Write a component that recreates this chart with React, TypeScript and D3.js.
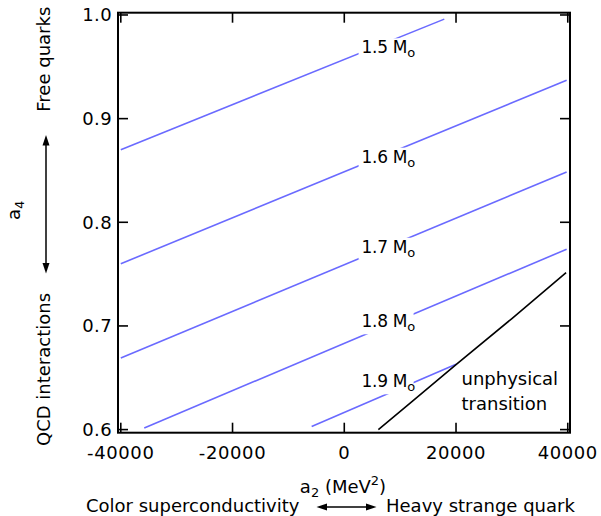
import React from "react";
import * as d3 from "d3";

// contour lines of constant maximum mass (a2 in MeV^2, a4)
const contourNames = ["1.5", "1.6", "1.7", "1.8", "1.9"];
const contourA2 = [
  [-40000, 17900],
  [-40000, 39800],
  [-40000, 39800],
  [-35800, 39800],
  [-5840, 20000],
];
const contourA4 = [
  [0.87, 0.996],
  [0.76, 0.937],
  [0.669, 0.8486],
  [0.6015, 0.774],
  [0.603, 0.663],
];
// label anchors (a2, a4) for each contour
const labelA2 = [3100, 3100, 3100, 3100, 3100];
const labelA4 = [0.963, 0.8575, 0.7706, 0.6987, 0.6408];

// unphysical transition boundary
const boundaryA2 = [6100, 12000, 20000, 30000, 39700];
const boundaryA4 = [0.6, 0.6266, 0.6627, 0.7071, 0.7515];

const xTicks = [-40000, -20000, 0, 20000, 40000];
const yTicks = [0.6, 0.7, 0.8, 0.9, 1.0];

const W = 601;
const H = 516;
const left = 118;
const right = 570;
const top = 12.7;
const bottom = 432.7;
const font = "'DejaVu Sans', Verdana, sans-serif";

export default function App() {
  const x = d3.scaleLinear().domain([-40500, 40400]).range([left, right]);
  const y = d3.scaleLinear().domain([0.597, 1.0022]).range([bottom, top]);

  const line = d3
    .line<[number, number]>()
    .x((d) => x(d[0]))
    .y((d) => y(d[1]));

  const tickLen = 10;

  return (
    <svg
      width={W}
      height={H}
      style={{ position: "absolute", left: 0, top: 0, background: "#fff" }}
      fontFamily={font}
    >
      {/* contour lines */}
      {contourNames.map((n, i) => (
        <path
          key={"c" + n}
          d={line(contourA2[i].map((a, j) => [a, contourA4[i][j]]) as [number, number][]) || ""}
          fill="none"
          stroke="#6a6aff"
          strokeWidth={1.6}
        />
      ))}
      {/* white boxes behind contour labels */}
      {contourNames.map((n, i) => (
        <rect
          key={"b" + n}
          x={x(labelA2[i]) - 3}
          y={y(labelA4[i]) - 15}
          width={55}
          height={22}
          fill="#fff"
        />
      ))}
      {contourNames.map((n, i) => (
        <text
          key={"t" + n}
          x={x(labelA2[i])}
          y={y(labelA4[i])}
          fontSize={17}
          letterSpacing={-0.3}
        >
          {n} M
          <tspan fontSize={13} dy={4}>o</tspan>
        </text>
      ))}

      {/* boundary */}
      <path
        d={line(boundaryA2.map((a, j) => [a, boundaryA4[j]]) as [number, number][]) || ""}
        fill="none"
        stroke="#000"
        strokeWidth={1.6}
      />
      <text x={461.5} y={385} fontSize={18}>unphysical</text>
      <text x={461.5} y={410} fontSize={18}>transition</text>

      {/* frame */}
      <rect
        x={left}
        y={top}
        width={right - left}
        height={bottom - top}
        fill="none"
        stroke="#000"
        strokeWidth={2}
      />
      {/* x ticks bottom and top */}
      {xTicks.map((t) => (
        <g key={"x" + t} stroke="#000" strokeWidth={1.6}>
          <line x1={x(t)} x2={x(t)} y1={bottom} y2={bottom - tickLen} />
          <line x1={x(t)} x2={x(t)} y1={top} y2={top + tickLen} />
        </g>
      ))}
      {xTicks.map((t) => (
        <text
          key={"xl" + t}
          x={x(t)}
          y={458.5}
          fontSize={18}
          textAnchor="middle"
          letterSpacing={0.6}
        >
          {t}
        </text>
      ))}
      {/* y ticks left and right */}
      {yTicks.map((t) => (
        <g key={"y" + t} stroke="#000" strokeWidth={1.6}>
          <line x1={left} x2={left + tickLen} y1={y(t)} y2={y(t)} />
          <line x1={right} x2={right - tickLen} y1={y(t)} y2={y(t)} />
        </g>
      ))}
      {yTicks.map((t) => (
        <text
          key={"yl" + t}
          x={112}
          y={y(t) + 6.5}
          fontSize={18}
          textAnchor="end"
          letterSpacing={0.4}
        >
          {d3.format(".1f")(t)}
        </text>
      ))}

      {/* x axis title and annotations */}
      <text x={343} y={493} fontSize={18} textAnchor="middle">
        a<tspan fontSize={13} dy={4}>2</tspan>
        <tspan dy={-4}> (MeV</tspan>
        <tspan fontSize={13} dy={-8}>2</tspan>
        <tspan dy={8}>)</tspan>
      </text>
      <text x={86} y={511.5} fontSize={18}>Color superconductivity</text>
      <text x={386} y={511.5} fontSize={18}>Heavy strange quark</text>
      <g fill="#000" stroke="#000">
        <line x1={322} x2={370} y1={507} y2={507} strokeWidth={1.5} />
        <path d="M316.5,507 L327,503.5 L327,510.5 Z" stroke="none" />
        <path d="M376.5,507 L366,503.5 L366,510.5 Z" stroke="none" />
      </g>

      {/* y axis title and annotations */}
      <text transform="translate(20,220) rotate(-90)" fontSize={18}>
        a<tspan fontSize={13} dy={4}>4</tspan>
      </text>
      <text transform="translate(50,111.7) rotate(-90)" fontSize={18}>
        Free quarks
      </text>
      <text transform="translate(50,446) rotate(-90)" fontSize={18}>
        QCD interactions
      </text>
      <g fill="#000" stroke="#000">
        <line x1={46} x2={46} y1={141} y2={267} strokeWidth={1.5} />
        <path d="M46,135 L42.5,145.5 L49.5,145.5 Z" stroke="none" />
        <path d="M46,273.5 L42.5,263 L49.5,263 Z" stroke="none" />
      </g>
    </svg>
  );
}
